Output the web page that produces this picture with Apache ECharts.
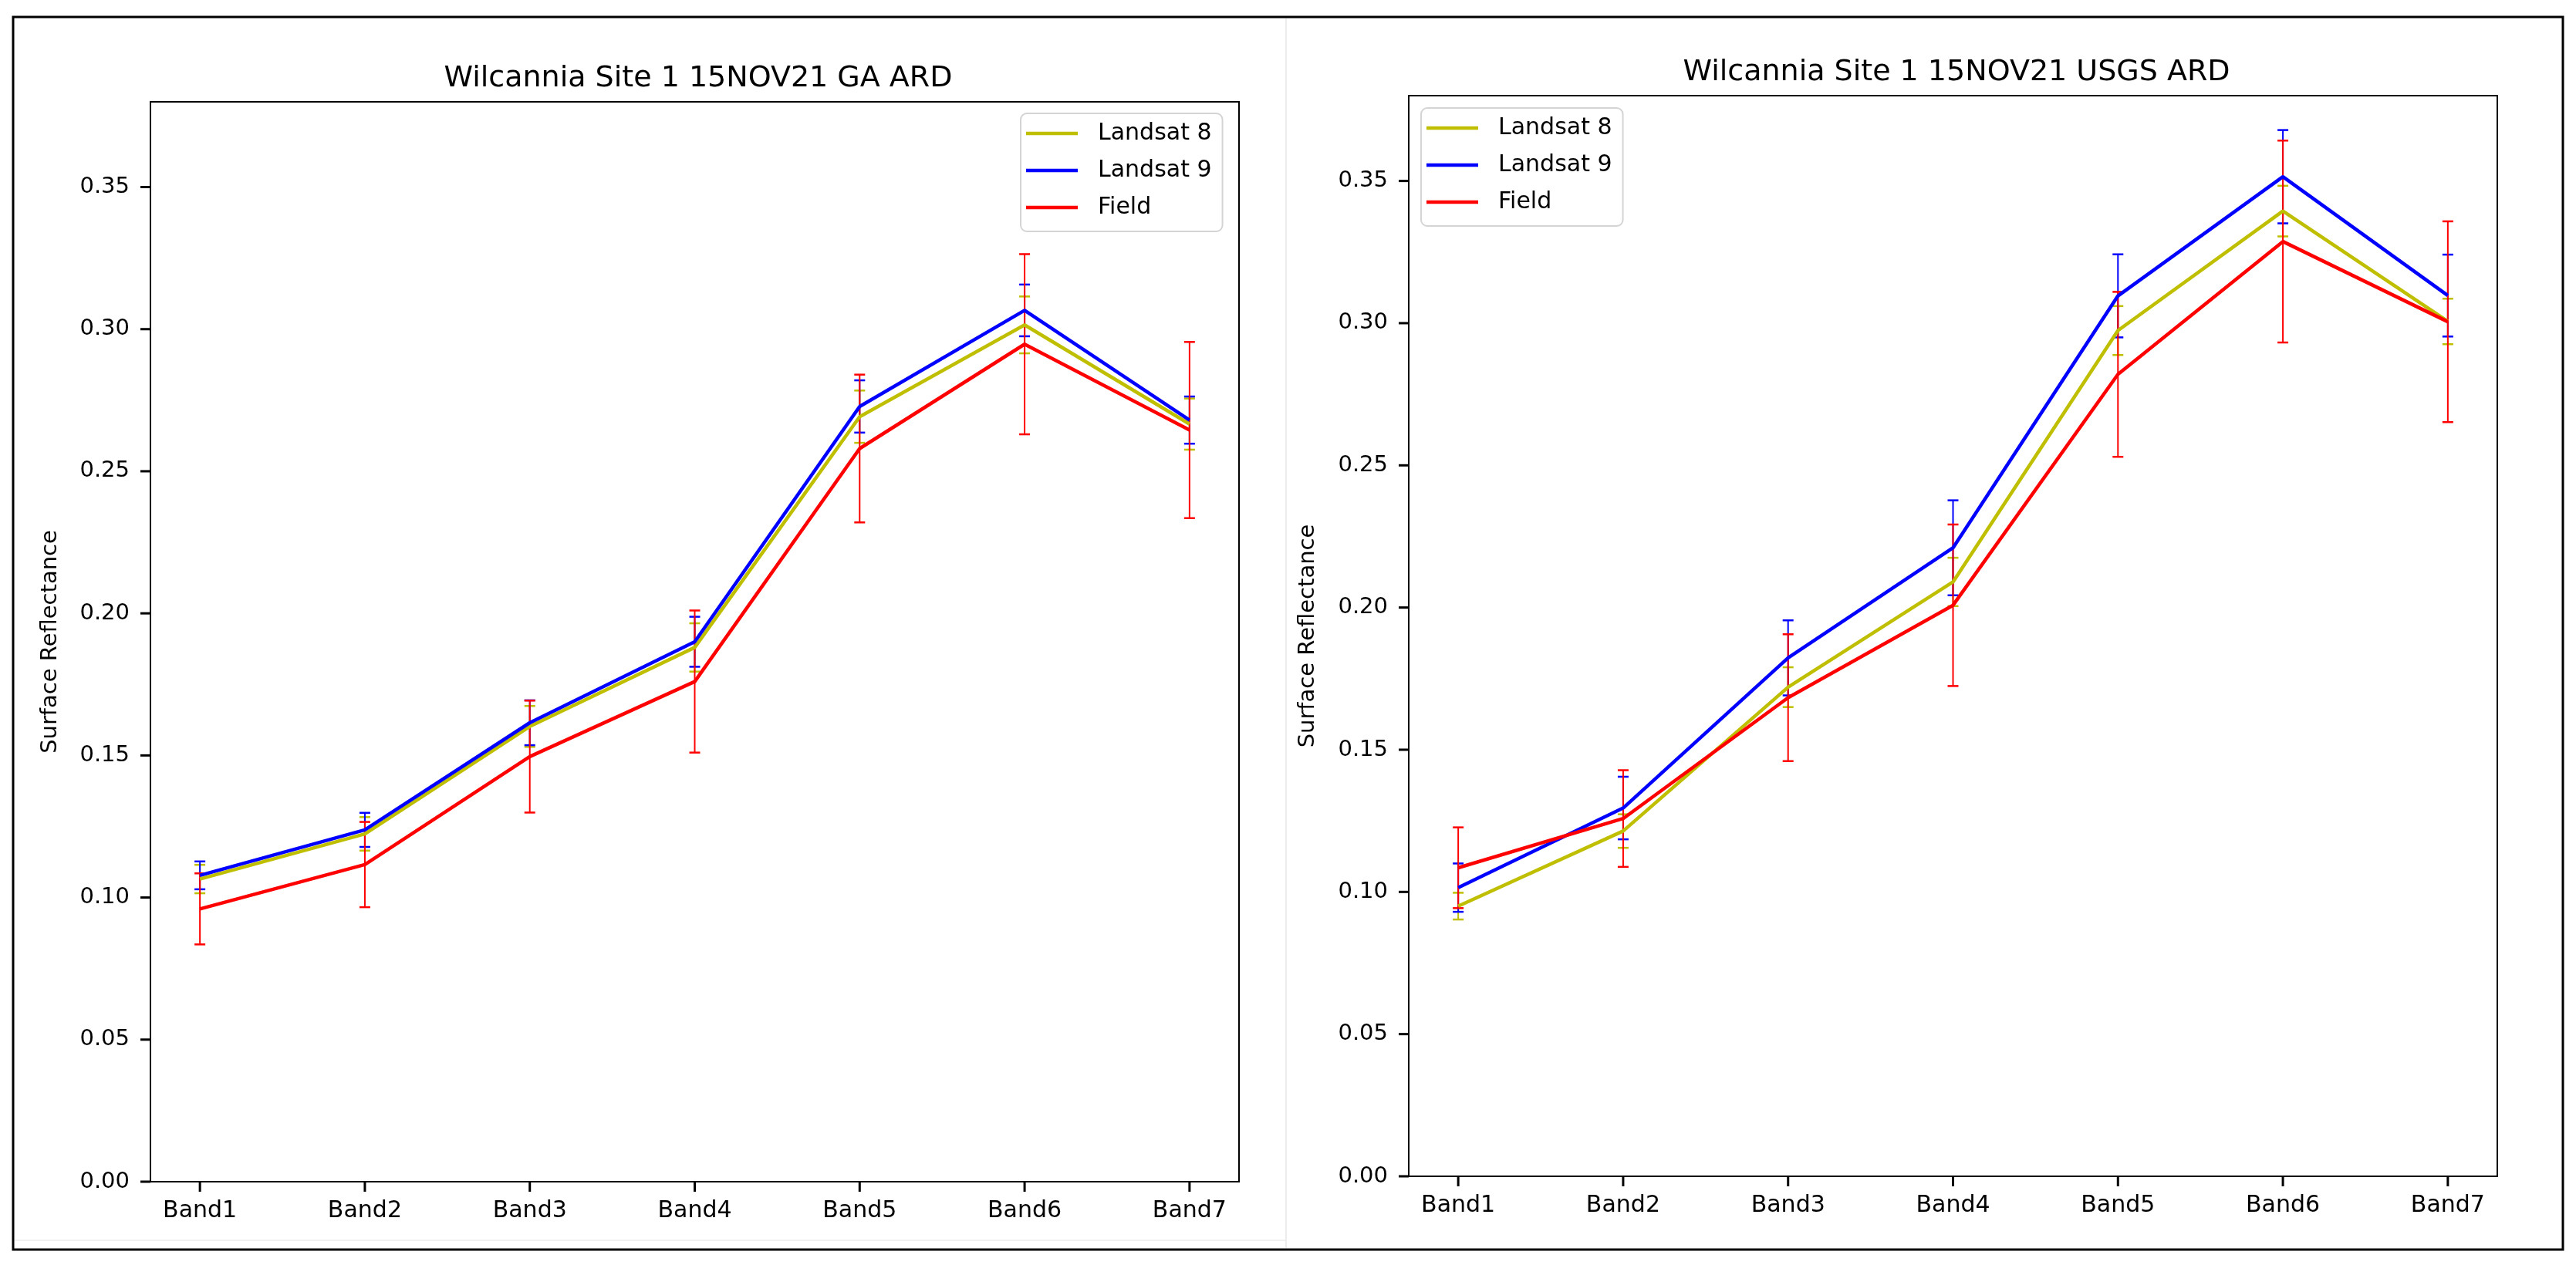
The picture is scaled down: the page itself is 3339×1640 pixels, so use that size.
<!DOCTYPE html>
<html>
<head>
<meta charset="utf-8">
<script src="https://cdn.jsdelivr.net/npm/echarts@6/dist/echarts.min.js"></script>
<style>
  html, body { margin: 0; padding: 0; background: #fff; }
  #chart { width: 3339px; height: 1640px; }
</style>
</head>
<body>
<div id="chart"></div>
<script>
// bands and y ticks
const bands = ['Band1', 'Band2', 'Band3', 'Band4', 'Band5', 'Band6', 'Band7'];
const yTicks = [0, 0.05, 0.10, 0.15, 0.20, 0.25, 0.30, 0.35];
const xTicks = [0, 1, 2, 3, 4, 5, 6];

// GA ARD panel
const gaL8 = [0.1065, 0.1224, 0.1602, 0.188, 0.2692, 0.3015, 0.2666];
const gaL8Err = [0.0050, 0.0059, 0.0072, 0.0085, 0.0092, 0.0100, 0.0090];
const gaL9 = [0.1078, 0.1238, 0.1615, 0.190, 0.2728, 0.3066, 0.2680];
const gaL9Err = [0.0049, 0.0060, 0.0079, 0.0088, 0.0092, 0.0091, 0.0083];
const gaField = [0.0960, 0.1116, 0.1496, 0.176, 0.2580, 0.2947, 0.2645];
const gaFieldErr = [0.0125, 0.0150, 0.0197, 0.0250, 0.0260, 0.0317, 0.0310];

// USGS ARD panel
const usgsL8 = [0.0950, 0.1214, 0.1720, 0.2090, 0.2974, 0.3394, 0.3006];
const usgsL8Err = [0.0047, 0.0059, 0.0070, 0.0085, 0.0086, 0.0089, 0.0080];
const usgsL9 = [0.1015, 0.1295, 0.1823, 0.2210, 0.3096, 0.3515, 0.3097];
const usgsL9Err = [0.0085, 0.0110, 0.0132, 0.0167, 0.0146, 0.0164, 0.0144];
const usgsField = [0.1085, 0.1258, 0.1683, 0.2008, 0.2820, 0.3287, 0.3005];
const usgsFieldErr = [0.0142, 0.0170, 0.0223, 0.0284, 0.0290, 0.0355, 0.0353];

const colors = { l8: '#bfbf00', l9: '#0000ff', field: '#ff0000' };
const FONT = 'DejaVu Sans';

const chart = echarts.init(document.getElementById('chart'));

function errBar(name, color, vals, errs, idx) {
  return {
    name: name + ' err',
    type: 'custom',
    xAxisIndex: idx,
    yAxisIndex: idx,
    data: vals.map((v, i) => [i, v, errs[i]]),
    z: 2,
    renderItem: function (params, api) {
      const x = api.value(0), m = api.value(1), e = api.value(2);
      const top = api.coord([x, m + e]);
      const bot = api.coord([x, m - e]);
      const st = { stroke: color, lineWidth: 2 };
      return {
        type: 'group',
        children: [
          { type: 'line', shape: { x1: top[0], y1: top[1], x2: bot[0], y2: bot[1] }, style: st },
          { type: 'line', shape: { x1: top[0] - 7, y1: top[1], x2: top[0] + 7, y2: top[1] }, style: { stroke: color, lineWidth: 2.5 } },
          { type: 'line', shape: { x1: bot[0] - 7, y1: bot[1], x2: bot[0] + 7, y2: bot[1] }, style: { stroke: color, lineWidth: 2.5 } }
        ]
      };
    }
  };
}

// outward tick marks: one item per tick, positioned by the axes' scales
function tickSeries(idx, axis) {
  const vals = axis === 'y' ? yTicks : xTicks;
  return {
    name: 'ticks',
    type: 'custom',
    xAxisIndex: idx,
    yAxisIndex: idx,
    silent: true,
    clip: false,
    z: 6,
    data: vals.map(v => (axis === 'y' ? [-0.3, v] : [v, 0])),
    renderItem: function (params, api) {
      const p = api.coord([api.value(0), api.value(1)]);
      const shape = axis === 'y'
        ? { x1: p[0] - 13, y1: p[1], x2: p[0], y2: p[1] }
        : { x1: p[0], y1: p[1], x2: p[0], y2: p[1] + 13 };
      return { type: 'line', shape: shape, style: { stroke: '#000', lineWidth: 3 } };
    }
  };
}

function lineSeries(name, color, vals, idx) {
  return {
    name: name,
    type: 'line',
    xAxisIndex: idx,
    yAxisIndex: idx,
    data: vals.map((v, i) => [i, v]),
    symbol: 'none',
    color: color,
    lineStyle: { color: color, width: 4.5 },
    z: 3
  };
}

function xAx(idx) {
  return {
    type: 'value',
    gridIndex: idx,
    min: -0.3,
    max: 6.3,
    splitLine: { show: false },
    axisLine: { show: true, onZero: false, lineStyle: { color: '#000', width: 2 } },
    axisTick: { show: false },
    axisLabel: {
      customValues: xTicks,
      formatter: v => bands[Math.round(v)],
      color: '#000', fontFamily: FONT, fontSize: 30, margin: 23
    }
  };
}

function yAx(idx, gap) {
  return {
    type: 'value',
    gridIndex: idx,
    min: 0,
    max: 0.38,
    name: 'Surface Reflectance',
    nameLocation: 'middle',
    nameRotate: 90,
    nameGap: gap,
    nameTextStyle: { color: '#000', fontFamily: FONT, fontSize: 29 },
    splitLine: { show: false },
    axisLine: { show: true, onZero: false, lineStyle: { color: '#000', width: 2 } },
    axisTick: { show: false },
    axisLabel: {
      customValues: yTicks,
      formatter: v => v.toFixed(2),
      color: '#000', fontFamily: FONT, fontSize: 29, margin: 27
    }
  };
}

function legend(left, top) {
  return {
    data: ['Landsat 8', 'Landsat 9', 'Field'],
    orient: 'vertical',
    left: left,
    top: top,
    icon: 'rect',
    itemWidth: 67,
    itemHeight: 4.5,
    itemGap: 18,
    padding: [11, 14, 16, 7],
    backgroundColor: '#fff',
    borderColor: '#d4d4d4',
    borderWidth: 2,
    borderRadius: 8,
    selectedMode: false,
    formatter: name => '{t|' + name + '}',
    textStyle: {
      rich: {
        t: { color: '#000', fontFamily: FONT, fontSize: 30, lineHeight: 30, padding: [0, 0, 0, 21] }
      }
    }
  };
}

const option = {
  animation: false,
  backgroundColor: '#fff',
  title: [
    { text: 'Wilcannia Site 1 15NOV21 GA ARD', left: 900, top: 78, textAlign: 'center',
      textStyle: { color: '#000', fontFamily: FONT, fontSize: 38, fontWeight: 'normal' } },
    { text: 'Wilcannia Site 1 15NOV21 USGS ARD', left: 2531, top: 70, textAlign: 'center',
      textStyle: { color: '#000', fontFamily: FONT, fontSize: 38, fontWeight: 'normal' } }
  ],
  legend: [legend(1323, 147), legend(1842, 140)],
  grid: [
    { left: 195, top: 132, width: 1411, height: 1400, show: true, borderColor: '#000', borderWidth: 2, backgroundColor: 'transparent' },
    { left: 1826, top: 124, width: 1411, height: 1401, show: true, borderColor: '#000', borderWidth: 2, backgroundColor: 'transparent' }
  ],
  xAxis: [xAx(0), xAx(1)],
  yAxis: [yAx(0, 115), yAx(1, 116)],
  graphic: [
    { type: 'rect', shape: { x: 17, y: 22, width: 3305, height: 1598 }, style: { fill: 'none', stroke: '#000', lineWidth: 3 }, z: 10 },
    { type: 'line', shape: { x1: 1667, y1: 24, x2: 1667, y2: 1618 }, style: { stroke: '#ececec', lineWidth: 2 } },
    { type: 'line', shape: { x1: 19, y1: 1608, x2: 1666, y2: 1608 }, style: { stroke: '#f0f0f0', lineWidth: 2 } }
  ],
  series: [
    tickSeries(0, 'y'), tickSeries(0, 'x'),
    tickSeries(1, 'y'), tickSeries(1, 'x'),
    errBar('Landsat 8', colors.l8, gaL8, gaL8Err, 0),
    lineSeries('Landsat 8', colors.l8, gaL8, 0),
    errBar('Landsat 9', colors.l9, gaL9, gaL9Err, 0),
    lineSeries('Landsat 9', colors.l9, gaL9, 0),
    errBar('Field', colors.field, gaField, gaFieldErr, 0),
    lineSeries('Field', colors.field, gaField, 0),
    errBar('Landsat 8', colors.l8, usgsL8, usgsL8Err, 1),
    lineSeries('Landsat 8', colors.l8, usgsL8, 1),
    errBar('Landsat 9', colors.l9, usgsL9, usgsL9Err, 1),
    lineSeries('Landsat 9', colors.l9, usgsL9, 1),
    errBar('Field', colors.field, usgsField, usgsFieldErr, 1),
    lineSeries('Field', colors.field, usgsField, 1)
  ]
};

chart.setOption(option);
window.addEventListener('resize', function () {
  chart.resize();
});
</script>
</body>
</html>
